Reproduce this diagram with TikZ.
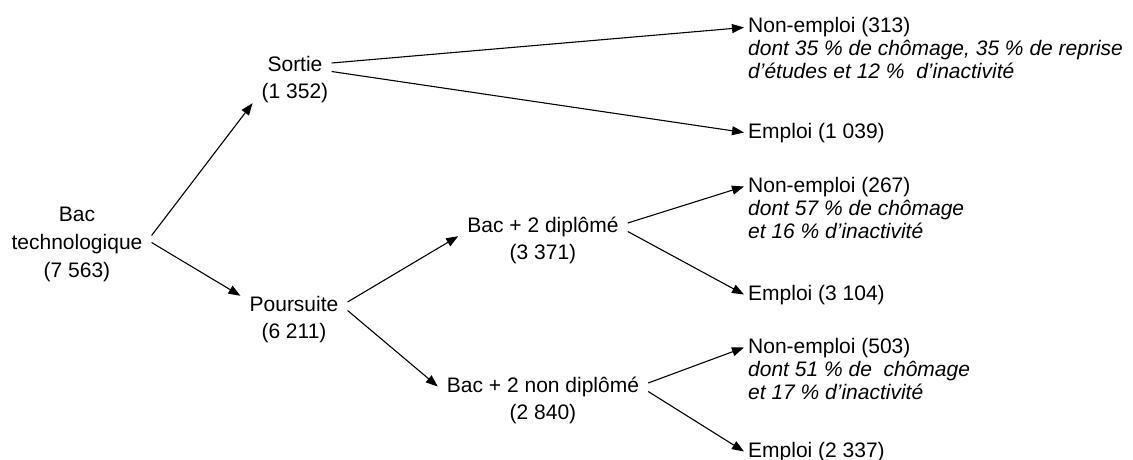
\documentclass[tikz,border=0pt]{standalone}
\usepackage{fontspec}
\setmainfont{Liberation Sans}
\usetikzlibrary{arrows.meta}

\tikzset{
  lbl/.style={font=\fontsize{21}{23}\selectfont, anchor=base, inner xsep=9pt, inner ysep=0pt, text height=15pt, text depth=4pt},
  leaf/.style={lbl, anchor=base west, inner xsep=4pt},
  note/.style={leaf, font=\fontsize{21}{23}\selectfont\itshape},
  flow/.style={-{Triangle[length=12pt,width=9pt]}, line width=1.1pt},
}

\begin{document}
\begin{tikzpicture}[x=1pt,y=-1pt]
  \useasboundingbox (0,0) rectangle (1133,460);

  % Root
  \node[lbl] (bac) at (77,221) {Bac};
  \node[lbl] (techno) at (77,249) {technologique};
  \node[lbl] (bacN) at (77,277) {(7 563)};

  % Sortie / Poursuite
  \node[lbl] (sortie) at (295,72) {Sortie};
  \node[lbl] (sortieN) at (295,99) {(1 352)};
  \node[lbl] (pours) at (294,311) {Poursuite};
  \node[lbl] (poursN) at (294,338) {(6 211)};

  % Bac + 2
  \node[lbl] (dipl) at (543,232) {Bac + 2 diplômé};
  \node[lbl] (diplN) at (543,259) {(3 371)};
  \node[lbl] (nondipl) at (543,392) {Bac + 2 non diplômé};
  \node[lbl] (nondiplN) at (543,419) {(2 840)};

  % Outcomes
  \node[leaf] (ne1) at (744,33) {Non-emploi (313)};
  \node[note] (ne1a) at (744,56) {dont 35 \% de chômage, 35 \% de reprise};
  \node[note] (ne1b) at (744,79) {d’études et 12 \%\ \ d’inactivité};
  \node[leaf] (em1) at (744,138) {Emploi (1 039)};
  \node[leaf] (ne2) at (744,192) {Non-emploi (267)};
  \node[note] (ne2a) at (744,215) {dont 57 \% de chômage};
  \node[note] (ne2b) at (744,238) {et 16 \% d’inactivité};
  \node[leaf] (em2) at (744,300) {Emploi (3 104)};
  \node[leaf] (ne3) at (744,353) {Non-emploi (503)};
  \node[note] (ne3a) at (744,376) {dont 51 \% de\ \ chômage};
  \node[note] (ne3b) at (744,399) {et 17 \% d’inactivité};
  \node[leaf] (em3) at (744,457) {Emploi (2 337)};

  % Branches
  \draw[flow] ([yshift=8pt]techno.east) -- (sortieN.south west);
  \draw[flow] ([yshift=1pt]techno.east) -- (pours.north west);
  \draw[flow] ([yshift=3.5pt]sortie.east) -- (ne1.west);
  \draw[flow] ([yshift=-5pt]sortie.east) -- (em1.west);
  \draw[flow] ([yshift=3.5pt]pours.east) -- (dipl.south west);
  \draw[flow] ([yshift=-5pt]pours.east) -- (nondipl.west);
  \draw[flow] ([yshift=3.5pt]dipl.east) -- (ne2.west);
  \draw[flow] ([yshift=-5pt]dipl.east) -- (em2.west);
  \draw[flow] ([yshift=3.5pt]nondipl.east) -- (ne3.west);
  \draw[flow] ([yshift=-5pt]nondipl.east) -- (em3.west);
\end{tikzpicture}
\end{document}
